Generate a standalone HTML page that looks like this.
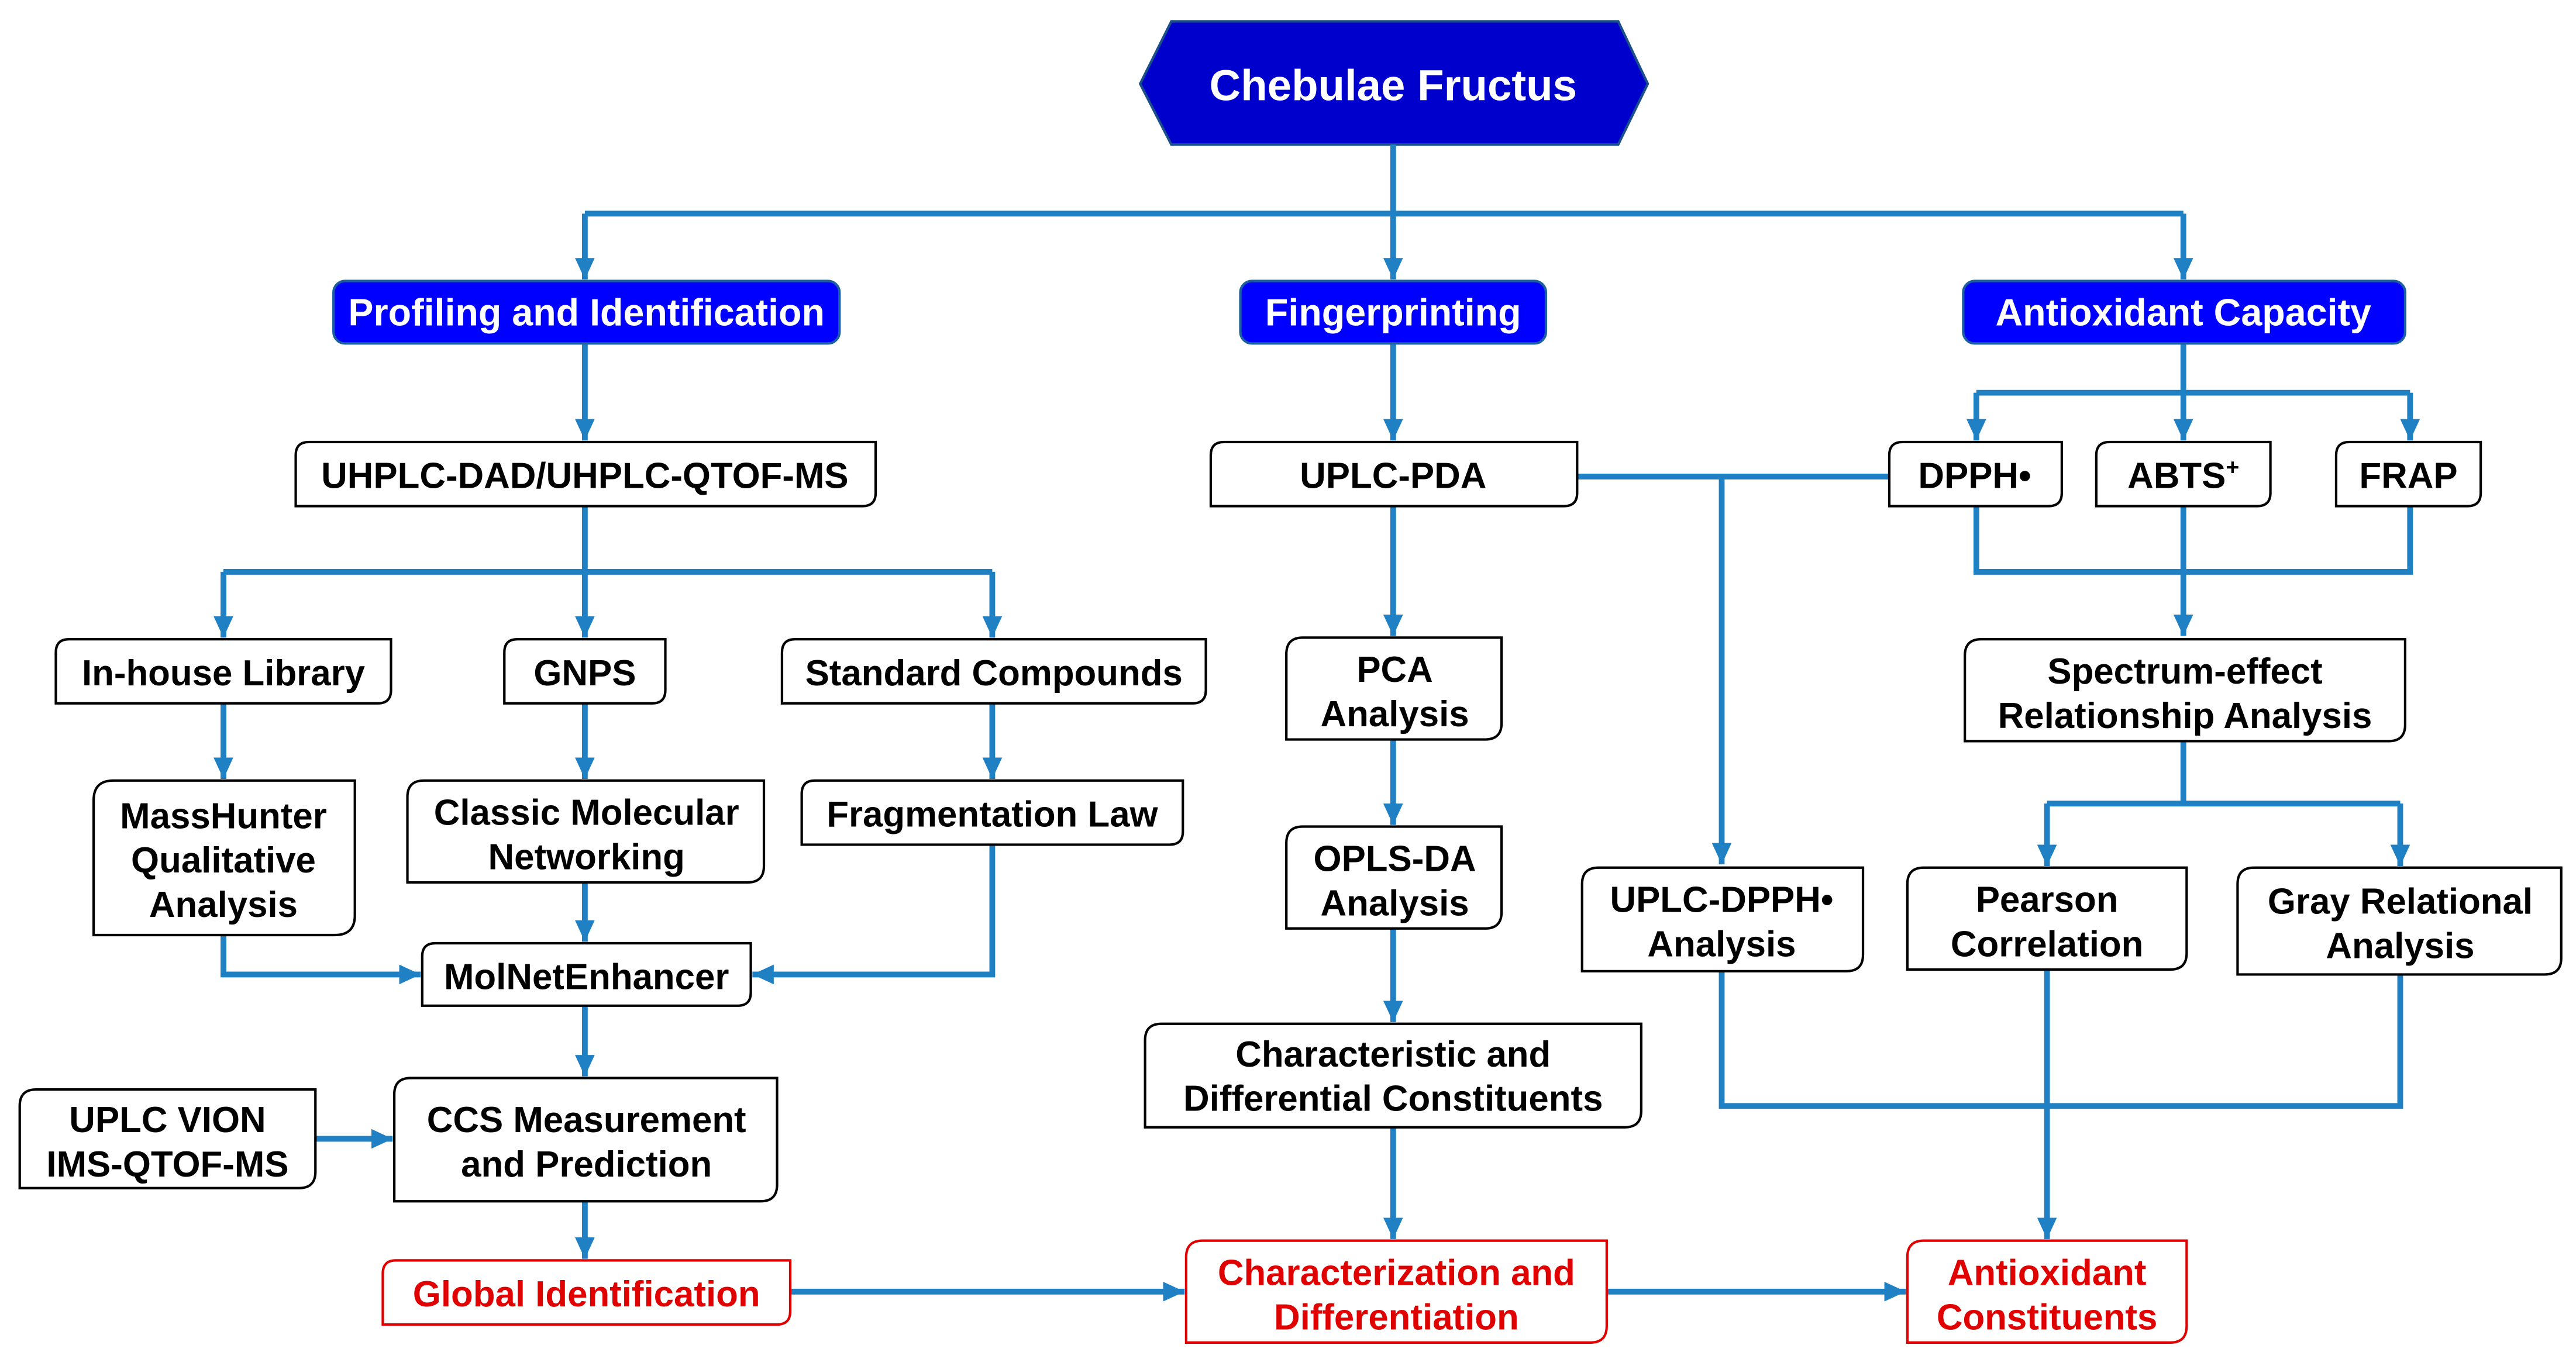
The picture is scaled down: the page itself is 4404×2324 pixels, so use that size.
<!DOCTYPE html>
<html><head><meta charset="utf-8"><style>
html,body{margin:0;padding:0;background:#fff;}
svg{display:block;}
text{font-family:"Liberation Sans",Arial,sans-serif;font-weight:bold;font-size:22px;text-anchor:middle;}
.b{fill:#fff;stroke:#000;stroke-width:1.5;}
.r{fill:#fff;stroke:#e00000;stroke-width:1.5;}
.l{fill:none;stroke:#1f80c4;stroke-width:3.5;}
.w{fill:#fff;font-size:23px;}
.rt{fill:#e00000;}
</style></head><body>
<svg width="4404" height="2324" viewBox="0 0 1568 827" preserveAspectRatio="none" xmlns="http://www.w3.org/2000/svg">
<defs>
<marker id="a" markerUnits="userSpaceOnUse" markerWidth="14" markerHeight="12" refX="13" refY="6" orient="auto">
<path d="M0,0L13,6L0,12Z" fill="#1f80c4"/></marker>
</defs>
<path d="M694,51L713,13H985L1003,51L985,88H713Z" fill="#0000cc" stroke="#1b4f8a" stroke-width="1.5"/>
<text x="848" y="61" class="w" style="font-size:26.5px">Chebulae Fructus</text>
<path class="l" d="M848,88V130M356,130H1329"/>
<path class="l" d="M356,130V170" marker-end="url(#a)"/>
<path class="l" d="M848,130V170" marker-end="url(#a)"/>
<path class="l" d="M1329,130V170" marker-end="url(#a)"/>
<path class="l" d="M356,209V268" marker-end="url(#a)"/>
<path class="l" d="M848,209V268" marker-end="url(#a)"/>
<path class="l" d="M1329,209V239M1203,239H1467"/>
<path class="l" d="M1203,239V268" marker-end="url(#a)"/>
<path class="l" d="M1329,239V268" marker-end="url(#a)"/>
<path class="l" d="M1467,239V268" marker-end="url(#a)"/>
<path class="l" d="M1203,308V348H1467V308M1329,308V348"/>
<path class="l" d="M1329,348V387" marker-end="url(#a)"/>
<path class="l" d="M960,290H1150"/>
<path class="l" d="M1048,290V526" marker-end="url(#a)"/>
<path class="l" d="M356,308V348M136,348H604"/>
<path class="l" d="M136,348V388" marker-end="url(#a)"/>
<path class="l" d="M356,348V388" marker-end="url(#a)"/>
<path class="l" d="M604,348V388" marker-end="url(#a)"/>
<path class="l" d="M136,428V474" marker-end="url(#a)"/>
<path class="l" d="M356,428V474" marker-end="url(#a)"/>
<path class="l" d="M604,428V474" marker-end="url(#a)"/>
<path class="l" d="M356,537V573" marker-end="url(#a)"/>
<path class="l" d="M136,569V593H256" marker-end="url(#a)"/>
<path class="l" d="M604,514V593H458" marker-end="url(#a)"/>
<path class="l" d="M356,612V655" marker-end="url(#a)"/>
<path class="l" d="M192,693H239" marker-end="url(#a)"/>
<path class="l" d="M356,731V766" marker-end="url(#a)"/>
<path class="l" d="M481,786H721" marker-end="url(#a)"/>
<path class="l" d="M978,786H1160" marker-end="url(#a)"/>
<path class="l" d="M848,308V387" marker-end="url(#a)"/>
<path class="l" d="M848,450V502" marker-end="url(#a)"/>
<path class="l" d="M848,565V622" marker-end="url(#a)"/>
<path class="l" d="M848,686V754" marker-end="url(#a)"/>
<path class="l" d="M1329,451V489M1246,489H1461"/>
<path class="l" d="M1246,489V527" marker-end="url(#a)"/>
<path class="l" d="M1461,489V527" marker-end="url(#a)"/>
<path class="l" d="M1048,591V673H1461V593"/>
<path class="l" d="M1246,590V754" marker-end="url(#a)"/>
<rect x="203" y="171" width="308" height="38" rx="7" fill="#0000ff" stroke="#1b5fa0" stroke-width="1.5"/>
<text x="357" y="198" class="w">Profiling and Identification</text>
<rect x="755" y="171" width="186" height="38" rx="7" fill="#0000ff" stroke="#1b5fa0" stroke-width="1.5"/>
<text x="848" y="198" class="w">Fingerprinting</text>
<rect x="1195" y="171" width="269" height="38" rx="7" fill="#0000ff" stroke="#1b5fa0" stroke-width="1.5"/>
<text x="1329" y="198" class="w">Antioxidant Capacity</text>
<path class="b" d="M188,269H533V300Q533,308 525,308H180V277Q180,269 188,269Z"/>
<text x="356" y="297">UHPLC-DAD/UHPLC-QTOF-MS</text>
<path class="b" d="M745,269H960V300Q960,308 952,308H737V277Q737,269 745,269Z"/>
<text x="848" y="297">UPLC-PDA</text>
<path class="b" d="M1158,269H1255V300Q1255,308 1247,308H1150V277Q1150,269 1158,269Z"/>
<text x="1202" y="297">DPPH•</text>
<path class="b" d="M1284,269H1382V300Q1382,308 1374,308H1276V277Q1276,269 1284,269Z"/>
<text x="1329" y="297">ABTS<tspan dy="-8" style="font-size:14px">+</tspan></text>
<path class="b" d="M1430,269H1510V300Q1510,308 1502,308H1422V277Q1422,269 1430,269Z"/>
<text x="1466" y="297">FRAP</text>
<path class="b" d="M42,389H238V420Q238,428 230,428H34V397Q34,389 42,389Z"/>
<text x="136" y="417">In-house Library</text>
<path class="b" d="M315,389H405V420Q405,428 397,428H307V397Q307,389 315,389Z"/>
<text x="356" y="417">GNPS</text>
<path class="b" d="M484,389H734V420Q734,428 726,428H476V397Q476,389 484,389Z"/>
<text x="605" y="417">Standard Compounds</text>
<path class="b" d="M69,475H216V557Q216,569 204,569H57V487Q57,475 69,475Z"/>
<text x="136" y="504">MassHunter</text><text x="136" y="531">Qualitative</text><text x="136" y="558">Analysis</text>
<path class="b" d="M258,475H465V527Q465,537 455,537H248V485Q248,475 258,475Z"/>
<text x="357" y="502">Classic Molecular</text><text x="357" y="529">Networking</text>
<path class="b" d="M496,475H720V506Q720,514 712,514H488V483Q488,475 496,475Z"/>
<text x="604" y="503">Fragmentation Law</text>
<path class="b" d="M265,574H457V604Q457,612 449,612H257V582Q257,574 265,574Z"/>
<text x="357" y="602">MolNetEnhancer</text>
<path class="b" d="M250,656H473V721Q473,731 463,731H240V666Q240,656 250,656Z"/>
<text x="357" y="689">CCS Measurement</text><text x="357" y="716">and Prediction</text>
<path class="b" d="M22,663H192V713Q192,723 182,723H12V673Q12,663 22,663Z"/>
<text x="102" y="689">UPLC VION</text><text x="102" y="716">IMS-QTOF-MS</text>
<path class="b" d="M793,388H914V440Q914,450 904,450H783V398Q783,388 793,388Z"/>
<text x="849" y="415">PCA</text><text x="849" y="442">Analysis</text>
<path class="b" d="M793,503H914V555Q914,565 904,565H783V513Q783,503 793,503Z"/>
<text x="849" y="530">OPLS-DA</text><text x="849" y="557">Analysis</text>
<path class="b" d="M707,623H999V676Q999,686 989,686H697V633Q697,623 707,623Z"/>
<text x="848" y="649">Characteristic and</text><text x="848" y="676">Differential Constituents</text>
<path class="b" d="M973,528H1134V581Q1134,591 1124,591H963V538Q963,528 973,528Z"/>
<text x="1048" y="555">UPLC-DPPH•</text><text x="1048" y="582">Analysis</text>
<path class="b" d="M1206,389H1464V441Q1464,451 1454,451H1196V399Q1196,389 1206,389Z"/>
<text x="1330" y="416">Spectrum-effect</text><text x="1330" y="443">Relationship Analysis</text>
<path class="b" d="M1171,528H1331V580Q1331,590 1321,590H1161V538Q1161,528 1171,528Z"/>
<text x="1246" y="555">Pearson</text><text x="1246" y="582">Correlation</text>
<path class="b" d="M1372,528H1559V583Q1559,593 1549,593H1362V538Q1362,528 1372,528Z"/>
<text x="1461" y="556">Gray Relational</text><text x="1461" y="583">Analysis</text>
<path class="r" d="M241,767H481V798Q481,806 473,806H233V775Q233,767 241,767Z"/>
<text x="357" y="795" class="rt">Global Identification</text>
<path class="r" d="M732,755H978V807Q978,817 968,817H722V765Q722,755 732,755Z"/>
<text x="850" y="782" class="rt">Characterization and</text><text x="850" y="809" class="rt">Differentiation</text>
<path class="r" d="M1171,755H1331V807Q1331,817 1321,817H1161V765Q1161,755 1171,755Z"/>
<text x="1246" y="782" class="rt">Antioxidant</text><text x="1246" y="809" class="rt">Constituents</text>
</svg>
</body></html>
